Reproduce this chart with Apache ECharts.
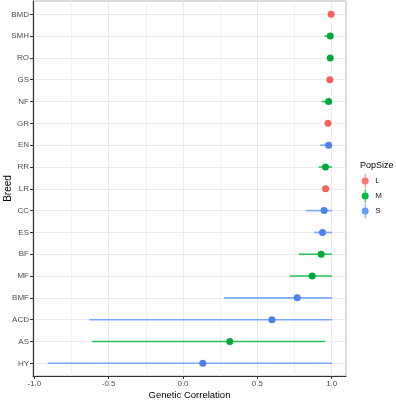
<!DOCTYPE html>
<html>
<head>
<meta charset="utf-8">
<script src="https://cdn.jsdelivr.net/npm/echarts@6/dist/echarts.min.js"></script>
<style>
    html, body { margin: 0; padding: 0; background: #fff; }
    #chart { width: 396px; height: 400px; }
</style>
</head>
<body>
<div id="chart"></div>
<script>
// breeds listed top to bottom
const breeds = ['BMD', 'SMH', 'RO', 'GS', 'NF', 'GR', 'EN', 'RR', 'LR', 'CC', 'ES', 'BF', 'MF', 'BMF', 'ACD', 'AS', 'HY']
const popSize = ['L', 'M', 'M', 'L', 'M', 'L', 'S', 'M', 'L', 'S', 'S', 'M', 'M', 'S', 'S', 'M', 'S']
const correlation = [0.995, 0.989, 0.989, 0.986, 0.978, 0.974, 0.978, 0.957, 0.958, 0.948, 0.937, 0.928, 0.868, 0.767, 0.597, 0.314, 0.132]
const lower = [0.99, 0.95, 0.975, 0.975, 0.931, 0.955, 0.921, 0.911, 0.937, 0.827, 0.881, 0.778, 0.718, 0.276, -0.63, -0.61, -0.91]
const upper = [1.0, 1.0, 1.0, 0.995, 1.0, 0.99, 1.0, 1.0, 0.985, 1.0, 1.0, 1.0, 1.0, 1.0, 1.0, 0.955, 1.0]
const groups = ['L', 'M', 'S']
const xTicks = { min: -1, max: 1, interval: 0.5 }

const lineColors = { L: '#F8766D', M: '#00BA38', S: '#619CFF' }
const pointColors = { L: '#F3625B', M: '#00A83A', S: '#4C82EE' }
const FONT = '"Liberation Sans", Arial, sans-serif'

const chart = echarts.init(document.getElementById('chart'))

const legendIcon = 'path://M4.5,0H5.5V14H4.5Z M8.5,7A3.5,3.5 0 1 1 1.5,7A3.5,3.5 0 1 1 8.5,7Z'

const makeSeries = group => {
    const data = []
    breeds.forEach((b, i) => {
        if (popSize[i] === group) {
            data.push([correlation[i], i, lower[i], upper[i]])
        }
    })
    return {
        name: group,
        type: 'custom',
        xAxisIndex: 0,
        yAxisIndex: 0,
        itemStyle: { color: lineColors[group] },
        encode: { x: [0, 2, 3], y: 1 },
        renderItem: (params, api) => {
            const c = api.coord([api.value(0), api.value(1)])
            const a = api.coord([api.value(2), api.value(1)])
            const b = api.coord([api.value(3), api.value(1)])
            return {
                type: 'group',
                children: [
                    {
                        type: 'line',
                        shape: { x1: a[0], y1: a[1], x2: b[0], y2: b[1] },
                        style: { stroke: lineColors[group], lineWidth: 1.6, opacity: 0.85 },
                    },
                    {
                        type: 'circle',
                        shape: { cx: c[0], cy: c[1], r: 3.5 },
                        style: { fill: pointColors[group] },
                    },
                ],
            }
        },
        data,
    }
}

chart.setOption({
    animation: false,
    textStyle: { fontFamily: FONT },
    title: {
        text: 'PopSize',
        left: 360,
        top: 161,
        padding: 0,
        textStyle: { fontFamily: FONT, fontSize: 9, fontWeight: 'normal', color: '#000' },
    },
    legend: {
        data: groups,
        orient: 'vertical',
        left: 361.7,
        top: 174,
        padding: 0,
        itemWidth: 10,
        itemHeight: 14,
        itemGap: 1,
        icon: legendIcon,
        textStyle: { fontFamily: FONT, fontSize: 8, color: '#222' },
    },
    grid: [
        // data grid: top/bottom at first/last category centres
        { left: 33, right: 50, top: 14.3, bottom: 36.7, outerBoundsMode: 'none', containLabel: false },
        // x tick grid: spans -1 .. 1
        { left: 34.3, right: 64.3, top: 1, bottom: 24, outerBoundsMode: 'none', containLabel: false },
        // panel border
        {
            left: 33, right: 50, top: 1, bottom: 24,
            outerBoundsMode: 'none', containLabel: false,
            show: true, borderColor: '#b8b8b8', borderWidth: 1, backgroundColor: 'transparent',
        },
    ],
    xAxis: [
        { gridIndex: 0, type: 'value', min: -1.009, max: 1.095, show: false },
        {
            gridIndex: 1,
            type: 'value',
            min: xTicks.min,
            max: xTicks.max,
            interval: xTicks.interval,
            axisLine: { show: false, onZero: false },
            axisTick: { show: true, length: 3, lineStyle: { color: '#333' } },
            axisLabel: { fontFamily: FONT, fontSize: 8, color: '#4d4d4d', margin: 4, formatter: v => v.toFixed(1) },
            splitLine: { show: true, lineStyle: { color: '#ebebeb', width: 1 } },
            minorTick: { show: false, splitNumber: 2 },
            minorSplitLine: { show: true, lineStyle: { color: '#f2f2f2', width: 1 } },
        },
        {
            gridIndex: 2,
            type: 'value',
            min: 0,
            max: 1,
            name: 'Genetic Correlation',
            nameLocation: 'middle',
            nameGap: 14,
            nameTextStyle: { fontFamily: FONT, fontSize: 9.5, color: '#000' },
            axisLine: { show: true, onZero: false, lineStyle: { color: '#333', width: 1 } },
            axisTick: { show: false },
            axisLabel: { show: false },
            splitLine: { show: false },
        },
    ],
    yAxis: [
        {
            gridIndex: 0,
            type: 'category',
            inverse: true,
            boundaryGap: false,
            data: breeds,
            axisLine: { show: false, onZero: false },
            axisTick: { show: true, length: 3, lineStyle: { color: '#333' } },
            axisLabel: { fontFamily: FONT, fontSize: 8, color: '#4d4d4d', margin: 4 },
            splitLine: { show: true, lineStyle: { color: '#ebebeb', width: 1 } },
        },
        { gridIndex: 1, type: 'value', show: false },
        {
            gridIndex: 2,
            type: 'value',
            min: 0,
            max: 1,
            name: 'Breed',
            nameLocation: 'middle',
            nameGap: 20,
            nameRotate: 90,
            nameTextStyle: { fontFamily: FONT, fontSize: 10, color: '#000' },
            axisLine: { show: true, onZero: false, lineStyle: { color: '#333', width: 1 } },
            axisTick: { show: false },
            axisLabel: { show: false },
            splitLine: { show: false },
        },
    ],
    series: groups.map(makeSeries),
})
</script>
</body>
</html>
